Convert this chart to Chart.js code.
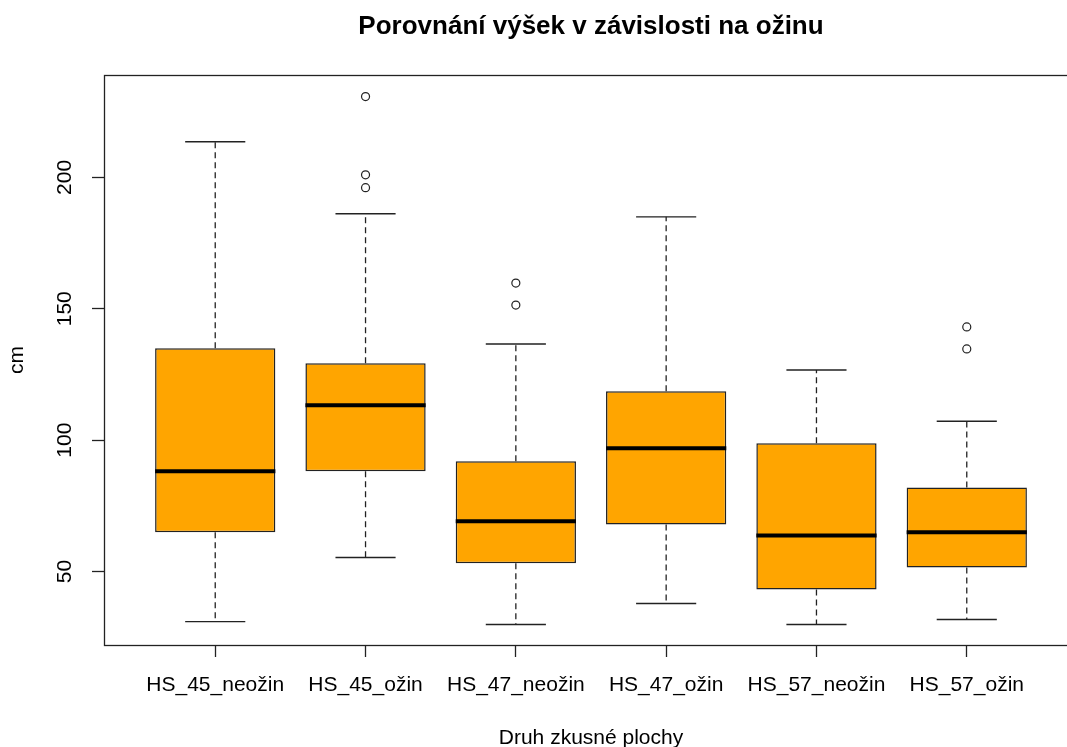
<!DOCTYPE html>
<html>
<head>
<meta charset="utf-8">
<script src="https://cdn.jsdelivr.net/npm/chart.js@4"></script>
<style>
  html, body { margin: 0; padding: 0; overflow: hidden; background: #fff; }
  #wrap { width: 1100px; height: 775px; }
</style>
</head>
<body>
<div id="wrap"><canvas id="boxChart" width="1100" height="775"></canvas></div>
<script>
// Values
var categories = ['HS_45_neožin', 'HS_45_ožin', 'HS_47_neožin', 'HS_47_ožin', 'HS_57_neožin', 'HS_57_ožin'];
var whiskerLow = [30.9, 55.3, 29.8, 37.8, 29.8, 31.7];
var q1         = [64.9, 88.1, 53.1, 67.9, 43.1, 51.5];
var median     = [88.1, 113.3, 69.1, 96.9, 63.7, 64.9];
var q3         = [135.0, 129.3, 92.0, 118.6, 98.8, 82.0];
var whiskerHigh = [213.6, 186.2, 136.6, 185.0, 126.7, 107.2];
var outliers   = [[], [230.8, 201.0, 196.1], [159.8, 151.4], [], [], [143.1, 134.7]];
var yTicks = [50, 100, 150, 200];

var FONT = '"Liberation Sans", Arial, sans-serif';
var LINE = '#222';
var boxHalf = 0.4, capHalf = 0.2;

// build datasets from the arrays
var boxData = [], medData = [], capData = [], whiskData = [], outData = [];
categories.forEach(function (c, i) {
  var x = i + 1;
  boxData.push({ x: x, y: [q1[i], q3[i]] });
  medData.push({ x: x - boxHalf, y: median[i] }, { x: x + boxHalf, y: median[i] }, { x: x, y: null });
  capData.push({ x: x - capHalf, y: whiskerHigh[i] }, { x: x + capHalf, y: whiskerHigh[i] }, { x: x, y: null });
  capData.push({ x: x - capHalf, y: whiskerLow[i] }, { x: x + capHalf, y: whiskerLow[i] }, { x: x, y: null });
  whiskData.push({ x: x, y: q3[i] }, { x: x, y: whiskerHigh[i] }, { x: x, y: null });
  whiskData.push({ x: x, y: q1[i] }, { x: x, y: whiskerLow[i] }, { x: x, y: null });
  outliers[i].forEach(function (v) { outData.push({ x: x, y: v }); });
});

// frame round the plot region + main title centred over it
var framePlugin = {
  id: 'frame',
  afterDraw: function (chart) {
    var a = chart.chartArea, ctx = chart.ctx;
    ctx.save();
    ctx.strokeStyle = LINE;
    ctx.lineWidth = 1.3;
    ctx.strokeRect(a.left + 0.5, a.top + 0.5, a.right - a.left, a.bottom - a.top);
    ctx.fillStyle = '#000';
    ctx.font = 'bold 26px ' + FONT;
    ctx.textAlign = 'center';
    ctx.textBaseline = 'alphabetic';
    ctx.fillText('Porovnání výšek v závislosti na ožinu', (a.left + a.right) / 2, 34);
    ctx.restore();
  }
};

new Chart(document.getElementById('boxChart'), {
  type: 'bar',
  data: {
    datasets: [
      { type: 'line', data: medData, borderColor: '#000', borderWidth: 4, pointRadius: 0, spanGaps: false },
      { type: 'bar', data: boxData, backgroundColor: '#FFA500', borderColor: LINE, borderWidth: 1.5,
        borderSkipped: false, categoryPercentage: 0.8, barPercentage: 1.0 },
      { type: 'line', data: capData, borderColor: LINE, borderWidth: 1.4, pointRadius: 0, spanGaps: false },
      { type: 'line', data: whiskData, borderColor: LINE, borderWidth: 1.3, borderDash: [6, 4], pointRadius: 0, spanGaps: false },
      { type: 'scatter', data: outData, pointRadius: 4, pointBorderWidth: 1.2, borderColor: LINE, backgroundColor: 'rgba(0,0,0,0)' }
    ]
  },
  options: {
    responsive: false,
    animation: false,
    layout: { padding: { top: 75, right: 22, left: 0, bottom: 0 } },
    plugins: { legend: { display: false }, tooltip: { enabled: false }, title: { display: false } },
    scales: {
      x: {
        type: 'linear',
        min: 0.26,
        max: 6.74,
        offset: false,
        afterBuildTicks: function (s) { s.ticks = categories.map(function (c, i) { return { value: i + 1 }; }); },
        afterFit: function (s) { s.height = 130; },
        ticks: {
          autoSkip: false, maxRotation: 0, padding: 16, color: '#000',
          font: { family: FONT, size: 21 },
          callback: function (v) { return categories[v - 1]; }
        },
        grid: { offset: false, drawOnChartArea: false, drawTicks: true, tickLength: 12, tickColor: LINE, tickWidth: 1.3 },
        border: { display: false },
        title: { display: true, text: 'Druh zkusné plochy', color: '#000', font: { family: FONT, size: 21 }, padding: { top: 0, bottom: 24 } }
      },
      y: {
        min: 22,
        max: 239,
        afterBuildTicks: function (s) { s.ticks = yTicks.map(function (v) { return { value: v }; }); },
        afterFit: function (s) { s.width = 104; },
        ticks: {
          minRotation: 90, maxRotation: 90, crossAlign: 'center', padding: 9, color: '#000',
          font: { family: FONT, size: 21 }
        },
        grid: { drawOnChartArea: false, drawTicks: true, tickLength: 12, tickColor: LINE, tickWidth: 1.3 },
        border: { display: false },
        title: { display: true, text: 'cm', color: '#000', font: { family: FONT, size: 21 }, padding: { top: 5, bottom: 0 } }
      }
    }
  },
  plugins: [framePlugin]
});
</script>
</body>
</html>
